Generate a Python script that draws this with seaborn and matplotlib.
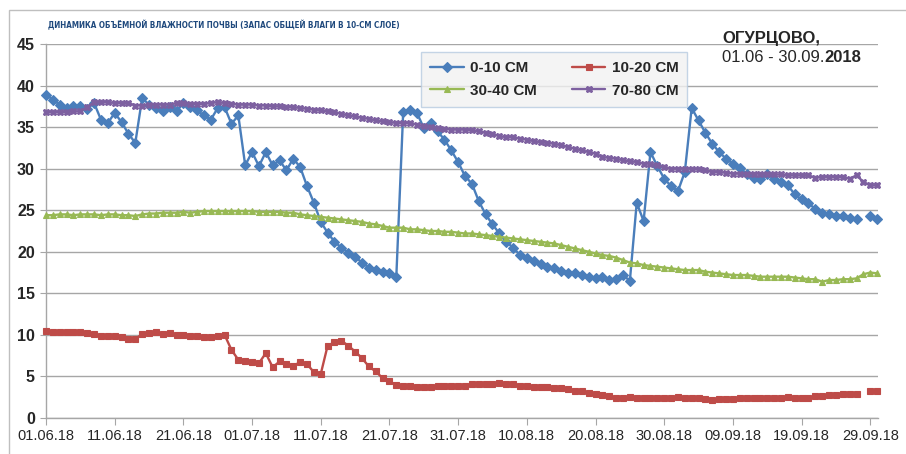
import numpy as np
import pandas as pd
import matplotlib
matplotlib.use("Agg")
import matplotlib.pyplot as plt
from matplotlib.patches import Rectangle
from matplotlib import font_manager as fm
import seaborn as sns

# daily observations 01.06.2018 - 30.09.2018 (28.09 missing for two layers)
dates = pd.date_range("2018-06-01", "2018-09-30", freq="D")

layer_0_10 = [
    38.9, 38.3, 37.7, 37.3, 37.5, 37.6, 37.2, 37.9, 35.9, 35.5,
    36.7, 35.6, 34.2, 33.1, 38.5, 37.7, 37.3, 36.9, 37.4, 36.9,
    37.9, 37.4, 37.0, 36.4, 35.9, 37.3, 37.4, 35.4, 36.4, 30.4,
    32.0, 30.3, 32.0, 30.4, 31.0, 29.8, 31.2, 30.2, 27.9, 25.9,
    23.6, 22.3, 21.2, 20.5, 19.9, 19.4, 18.7, 18.1, 17.8, 17.6,
    17.4, 17.0, 36.8, 37.1, 36.7, 34.9, 35.5, 34.5, 33.5, 32.2,
    30.8, 29.1, 28.2, 26.1, 24.5, 23.3, 22.2, 21.2, 20.5, 19.6,
    19.2, 18.9, 18.5, 18.2, 18.0, 17.7, 17.4, 17.4, 17.2, 17.0,
    16.8, 17.0, 16.6, 16.7, 17.2, 16.5, 25.9, 23.7, 32.0, 30.3,
    28.8, 27.9, 27.3, 29.6, 37.3, 35.8, 34.3, 33.0, 32.0, 31.2,
    30.6, 30.1, 29.4, 28.9, 28.7, 29.3, 28.8, 28.4, 28.0, 26.9,
    26.3, 25.9, 25.1, 24.7, 24.5, 24.3, 24.3, 24.1, 23.9, np.nan,
    24.3, 24.0,
]
layer_10_20 = [
    10.5, 10.4, 10.4, 10.3, 10.4, 10.3, 10.2, 10.1, 9.9, 9.9,
    9.9, 9.8, 9.5, 9.5, 10.1, 10.2, 10.3, 10.1, 10.2, 10.0,
    10.0, 9.9, 9.9, 9.8, 9.7, 9.9, 10.0, 8.2, 7.0, 6.8,
    6.7, 6.6, 7.8, 6.1, 6.8, 6.5, 6.3, 6.7, 6.5, 5.5,
    5.3, 8.7, 9.1, 9.3, 8.7, 8.0, 7.2, 6.2, 5.6, 4.8,
    4.4, 4.0, 3.8, 3.9, 3.7, 3.7, 3.7, 3.8, 3.8, 3.9,
    3.9, 3.9, 4.1, 4.1, 4.1, 4.1, 4.2, 4.1, 4.1, 3.9,
    3.9, 3.7, 3.7, 3.7, 3.6, 3.6, 3.5, 3.3, 3.2, 3.0,
    2.9, 2.8, 2.7, 2.4, 2.4, 2.5, 2.4, 2.4, 2.4, 2.4,
    2.4, 2.4, 2.5, 2.4, 2.4, 2.4, 2.3, 2.2, 2.3, 2.3,
    2.3, 2.4, 2.4, 2.4, 2.4, 2.4, 2.4, 2.4, 2.5, 2.4,
    2.4, 2.4, 2.6, 2.6, 2.8, 2.8, 2.85, 2.85, 2.85, np.nan,
    3.25, 3.2,
]
layer_30_40 = [
    24.4, 24.4, 24.5, 24.5, 24.4, 24.5, 24.5, 24.5, 24.4, 24.5,
    24.5, 24.4, 24.4, 24.3, 24.5, 24.6, 24.6, 24.7, 24.7, 24.7,
    24.8, 24.7, 24.8, 24.9, 24.9, 24.9, 24.9, 24.9, 24.9, 24.9,
    24.9, 24.8, 24.8, 24.8, 24.8, 24.7, 24.7, 24.5, 24.4, 24.3,
    24.2, 24.1, 24.0, 23.9, 23.8, 23.7, 23.6, 23.4, 23.3, 23.1,
    22.9, 22.9, 22.9, 22.7, 22.7, 22.6, 22.5, 22.5, 22.4, 22.4,
    22.3, 22.2, 22.2, 22.1, 22.0, 21.9, 21.8, 21.7, 21.6, 21.5,
    21.4, 21.3, 21.2, 21.1, 21.0, 20.8, 20.6, 20.4, 20.2, 20.0,
    19.8, 19.6, 19.5, 19.3, 19.0, 18.7, 18.6, 18.4, 18.3, 18.2,
    18.1, 18.0, 17.9, 17.8, 17.8, 17.8, 17.6, 17.5, 17.4, 17.3,
    17.2, 17.2, 17.2, 17.1, 17.0, 17.0, 17.0, 17.0, 17.0, 16.9,
    16.8, 16.7, 16.7, 16.4, 16.6, 16.6, 16.7, 16.7, 16.8, 17.3,
    17.5, 17.4,
]
layer_70_80 = [
    36.8, 36.8, 36.8, 36.8, 36.9, 36.9, 37.4, 38.0, 38.0, 38.0,
    37.9, 37.9, 37.9, 37.6, 37.6, 37.7, 37.7, 37.7, 37.7, 37.9,
    37.9, 37.8, 37.8, 37.8, 37.9, 38.0, 37.9, 37.8, 37.7, 37.7,
    37.7, 37.6, 37.6, 37.5, 37.5, 37.4, 37.4, 37.3, 37.2, 37.1,
    37.0, 36.9, 36.8, 36.6, 36.4, 36.3, 36.1, 36.0, 35.8, 35.7,
    35.6, 35.5, 35.5, 35.5, 35.3, 35.1, 35.0, 34.9, 34.8, 34.7,
    34.7, 34.7, 34.6, 34.5, 34.3, 34.2, 33.9, 33.8, 33.8, 33.6,
    33.5, 33.3, 33.2, 33.1, 33.0, 32.8, 32.6, 32.4, 32.2, 32.0,
    31.8, 31.4, 31.3, 31.2, 31.0, 30.9, 30.8, 30.6, 30.6, 30.4,
    30.2, 30.0, 30.0, 30.0, 30.0, 29.9, 29.8, 29.6, 29.6, 29.5,
    29.4, 29.4, 29.4, 29.4, 29.4, 29.3, 29.3, 29.3, 29.2, 29.2,
    29.2, 29.2, 28.9, 29.0, 29.0, 29.0, 29.0, 28.8, 29.2, 28.4,
    28.0, 28.0,
]

series_names = ["0-10 СМ", "10-20 СМ", "30-40 СМ", "70-80 СМ"]
tick_dates = dates[::10]
tick_labels = [d.strftime("%d.%m.%y") for d in tick_dates]

title = "ДИНАМИКА ОБЪЁМНОЙ ВЛАЖНОСТИ ПОЧВЫ (ЗАПАС ОБЩЕЙ ВЛАГИ В 10-СМ СЛОЕ)"
place = "ОГУРЦОВО,"
period = "01.06 - 30.09."
year = "2018"

styles = {
    "0-10 СМ": dict(color="#4a7ebb", marker="D", ms=5.5),
    "10-20 СМ": dict(color="#be4b48", marker="s", ms=4.5),
    "30-40 СМ": dict(color="#98b954", marker="^", ms=5),
    "70-80 СМ": dict(color="#7d60a0", marker="X", ms=5),
}

sns.set_style("white")
plt.rcParams["font.family"] = ["Liberation Sans", "DejaVu Sans"]

W, H = 906, 454
fig = plt.figure(figsize=(W / 100, H / 100), dpi=100)
ax = fig.add_axes([46 / W, 1 - 418 / H, 832 / W, 374 / H])

for name, vals in zip(series_names, [layer_0_10, layer_10_20, layer_30_40, layer_70_80]):
    df = pd.DataFrame({"date": dates, "value": vals})
    df["seg"] = df["value"].isna().cumsum()
    df = df.dropna()
    st = styles[name]
    sns.lineplot(data=df, x="date", y="value", units="seg", estimator=None,
                 color=st["color"], marker=st["marker"], markersize=st["ms"],
                 markeredgecolor=st["color"], markeredgewidth=0.8,
                 linewidth=1.7, label=name, clip_on=False, ax=ax, zorder=3)
if ax.get_legend() is not None:
    ax.get_legend().remove()

ax.set_xlim(dates[0], dates[-1] + pd.Timedelta(hours=3))
ax.set_ylim(0, 45)
ax.set_yticks(range(0, 46, 5))
ax.set_xticks(tick_dates, tick_labels)
ax.set_xlabel("")
ax.set_ylabel("")

ax.grid(axis="y", color="#a6a6a6", linewidth=1.0)
ax.grid(axis="x", visible=False)
for s in ["top", "right"]:
    ax.spines[s].set_visible(False)
for s in ["left", "bottom"]:
    ax.spines[s].set_color("#a6a6a6")
    ax.spines[s].set_linewidth(1.0)

ax.tick_params(axis="x", direction="out", length=5, color="#a6a6a6",
               labelsize=10.5, pad=3, bottom=True)
ax.tick_params(axis="y", direction="out", length=4, color="#a6a6a6",
               labelsize=11.5, pad=4, left=True)
for lab in ax.get_yticklabels():
    lab.set_fontweight("bold")

# legend, order filled column-wise
handles, labels = ax.get_legend_handles_labels()
uniq = dict(zip(labels, handles))
order = ["0-10 СМ", "30-40 СМ", "10-20 СМ", "70-80 СМ"]
leg = fig.legend([uniq[k] for k in order], order, ncol=2,
                 loc="upper left", bbox_to_anchor=(421 / W, 1 - 52 / H),
                 frameon=True, fancybox=False, borderaxespad=0,
                 prop={"weight": "bold", "size": 11}, handlelength=2.2,
                 handletextpad=0.4, columnspacing=2.3, labelspacing=0.55,
                 borderpad=0.6)
leg.get_frame().set_facecolor("#f2f2f2")
leg.get_frame().set_edgecolor("#b7cbe0")
leg.get_frame().set_linewidth(1.0)

# title in a condensed face if one is installed
title_font = None
for fam, stretch in [("Liberation Sans Narrow", "normal"), ("DejaVu Sans", "condensed")]:
    try:
        path = fm.findfont(fm.FontProperties(family=fam, stretch=stretch, weight="bold"),
                           fallback_to_default=False)
    except Exception:
        continue
    if "Narrow" in path or "Condensed" in path:
        title_font = path
        break

if title_font is None:
    t = fig.text(48 / W, 1 - 25 / H, title, color="#1f497d", fontweight="bold",
                 fontsize=8, va="center", ha="left")
else:
    t = fig.text(48 / W, 1 - 25 / H, title, color="#1f497d", va="center", ha="left",
                 fontproperties=fm.FontProperties(fname=title_font, size=8))
fig.canvas.draw()
w = t.get_window_extent().width
t.set_fontsize(8 * 350 / w)

fig.text(722 / W, 1 - 38 / H, place, fontsize=12, fontweight="bold",
         va="center", ha="left")
t1 = fig.text(722 / W, 1 - 58 / H, period, fontsize=12, va="center", ha="left")
ax.annotate(year, xy=(1, 0), xycoords=t1, va="bottom", ha="left",
            fontsize=12, fontweight="bold", annotation_clip=False)

# chart area border
fig.patches.append(Rectangle((9 / W, -0.1), 1.2, 1.1 - 10 / H, transform=fig.transFigure,
                             fill=False, edgecolor="#bfbfbf", linewidth=1.0))

fig.savefig("out.png", dpi=100)
